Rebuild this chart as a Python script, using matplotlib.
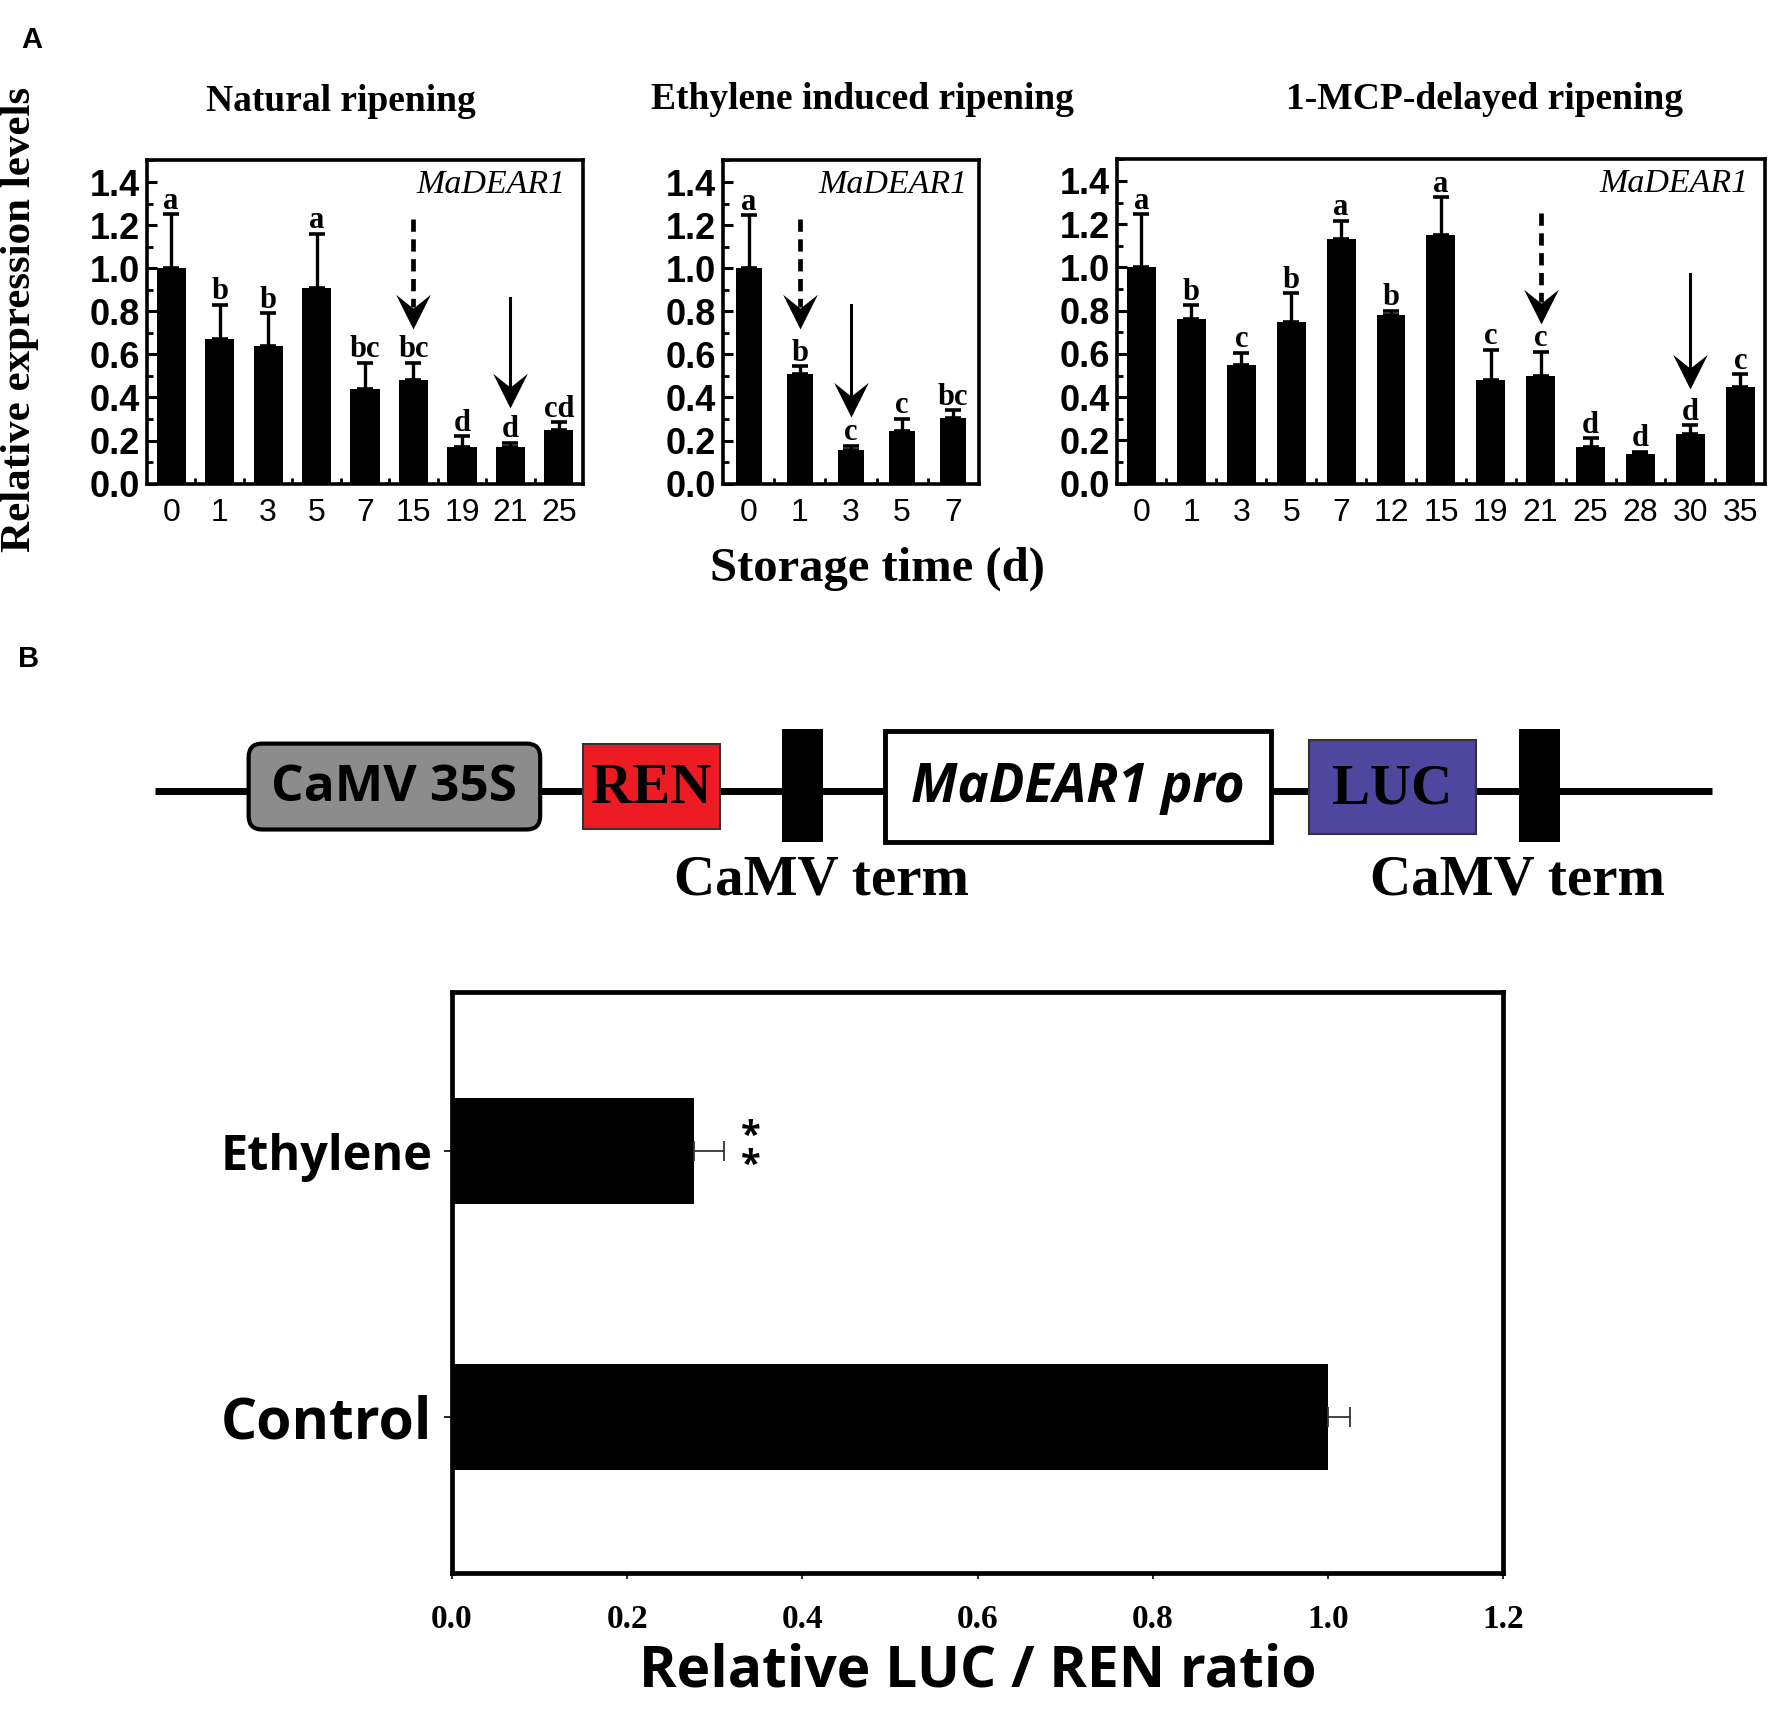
import matplotlib
matplotlib.use('Agg')
import matplotlib.pyplot as plt
import numpy as np
from matplotlib.path import Path
from matplotlib.patches import FancyBboxPatch, Rectangle
from matplotlib.ticker import MultipleLocator, FixedLocator

# layout is measured in reference units (1568 x 1522), converted to figure fractions
W, H = 1568.0, 1522.0
SERIF = 'Liberation Serif'
ARIAL = 'Liberation Sans'
SANS = 'Open Sans'


def box(x0, y0, x1, y1):
    return [x0 / W, 1 - y1 / H, (x1 - x0) / W, (y1 - y0) / H]


# ---- panel A data (relative expression of MaDEAR1)
nat_days = ['0', '1', '3', '5', '7', '15', '19', '21', '25']
nat_mean = [1.00, 0.67, 0.64, 0.91, 0.44, 0.48, 0.17, 0.17, 0.25]
nat_err = [0.25, 0.16, 0.15, 0.25, 0.12, 0.08, 0.05, 0.02, 0.035]
nat_sig = ['a', 'b', 'b', 'a', 'bc', 'bc', 'd', 'd', 'cd']
nat_arrows = [('15', 1.23, 0.72, True), ('21', 0.86, 0.35, False)]

eth_days = ['0', '1', '3', '5', '7']
eth_mean = [1.00, 0.51, 0.155, 0.245, 0.305]
eth_err = [0.245, 0.035, 0.02, 0.055, 0.035]
eth_sig = ['a', 'b', 'c', 'c', 'bc']
eth_arrows = [('1', 1.23, 0.72, True), ('3', 0.83, 0.31, False)]

mcp_days = ['0', '1', '3', '5', '7', '12', '15', '19', '21', '25', '28', '30', '35']
mcp_mean = [1.00, 0.76, 0.55, 0.75, 1.13, 0.78, 1.15, 0.48, 0.50, 0.17, 0.135, 0.23, 0.445]
mcp_err = [0.245, 0.065, 0.055, 0.13, 0.085, 0.02, 0.175, 0.14, 0.11, 0.04, 0.012, 0.04, 0.06]
mcp_sig = ['a', 'b', 'c', 'b', 'a', 'b', 'a', 'c', 'c', 'd', 'd', 'd', 'c']
mcp_arrows = [('21', 1.25, 0.74, True), ('30', 0.97, 0.44, False)]

# ---- panel B data (dual luciferase)
luc_groups = ['Control', 'Ethylene']
luc_mean = [1.0, 0.276]
luc_err = [0.025, 0.035]

# construct elements: label, x0, x1, y0, y1, face, style
construct = [
    ('CaMV 35S', 220, 478, 658, 734, '#8c8c8c', 'round'),
    ('REN', 516, 637, 658, 734, '#ed1c24', 'serif'),
    ('CaMV term', 692, 728, 645, 745, 'black', 'term'),
    ('MaDEAR1 pro', 783, 1125, 647, 745, 'white', 'pro'),
    ('LUC', 1158, 1306, 655, 738, '#4f479d', 'serif'),
    ('CaMV term', 1344, 1380, 645, 745, 'black', 'term'),
]
term_label_x = [727, 1343]

# stealth-like arrow head, tip at origin pointing down
head = Path([(0, 0), (-0.5, 1.0), (0, 0.6), (0.5, 1.0), (0, 0)],
            [Path.MOVETO, Path.LINETO, Path.LINETO, Path.LINETO, Path.CLOSEPOLY])

fig = plt.figure(figsize=(17.72, 17.20), dpi=100)


def expr_panel(rect, days, mean, err, sig, arrows, width, gene_x):
    ax = fig.add_axes(box(*rect))
    x = np.arange(len(days))
    ax.bar(x, mean, width=width, color='k', zorder=2)
    ax.errorbar(x, mean, yerr=[np.zeros(len(x)), err], fmt='none', ecolor='k',
                elinewidth=2.4, capsize=5.5, capthick=2.6, zorder=2)
    for xi, m, e, s in zip(x, mean, err, sig):
        ax.annotate(s, (xi, m + e), xytext=(0, -1), textcoords='offset points',
                    ha='center', va='bottom', fontsize=22, fontweight='bold',
                    family=SERIF)
    for day, y0, tip, dashed in arrows:
        xi = days.index(day)
        if dashed:
            ax.plot([xi, xi], [y0, tip + 0.1], color='k', lw=3.4, ls=(0, (2.6, 1.6)),
                    solid_capstyle='butt', dash_capstyle='butt')
        else:
            ax.plot([xi, xi], [y0, tip + 0.1], color='k', lw=2.2)
        ax.plot([xi], [tip], marker=head, ms=50, color='k', mew=0, ls='none')
    ax.set_xlim(-0.5, len(days) - 0.5)
    ax.set_ylim(0, 1.5)
    ax.set_xticks(x)
    ax.set_xticklabels(days, family=ARIAL, fontsize=23)
    ax.xaxis.set_minor_locator(FixedLocator(x[:-1] + 0.5))
    ax.yaxis.set_minor_locator(MultipleLocator(0.1))
    ax.set_yticks(np.arange(0, 1.41, 0.2))
    ax.set_yticklabels(['%.1f' % v for v in np.arange(0, 1.41, 0.2)],
                       family=ARIAL, fontsize=26, fontweight='bold')
    ax.tick_params(axis='y', which='major', direction='in', length=7, width=2.2, pad=5)
    ax.tick_params(axis='y', which='minor', direction='in', length=4, width=2)
    ax.tick_params(axis='x', which='major', length=0, pad=10)
    ax.tick_params(axis='x', which='minor', direction='in', length=4, width=2)
    for sp in ax.spines.values():
        sp.set_linewidth(2.6)
    ax.text(gene_x, 0.925, 'MaDEAR1', transform=ax.transAxes, ha='right', va='center',
            family=SERIF, style='italic', fontsize=24.5)
    return ax


expr_panel((130, 142, 516, 428), nat_days, nat_mean, nat_err, nat_sig, nat_arrows, 0.6, 0.96)
expr_panel((640, 142, 866, 428), eth_days, eth_mean, eth_err, eth_sig, eth_arrows, 0.52, 0.955)
expr_panel((988, 141, 1562, 428), mcp_days, mcp_mean, mcp_err, mcp_sig, mcp_arrows, 0.58, 0.975)

fig.text(28 / W, 1 - 35 / H, 'A', family=ARIAL, fontweight='bold', fontsize=21,
         ha='center', va='center')
fig.text(302 / W, 1 - 90 / H, 'Natural ripening', family=SERIF, fontweight='bold',
         fontsize=27, ha='center', va='center')
fig.text(763 / W, 1 - 88 / H, 'Ethylene induced ripening', family=SERIF,
         fontweight='bold', fontsize=27, ha='center', va='center')
fig.text(1314 / W, 1 - 88 / H, '1-MCP-delayed ripening', family=SERIF,
         fontweight='bold', fontsize=27, ha='center', va='center')
fig.text(18 / W, 1 - 283 / H, 'Relative expression levels', family=SERIF,
         fontweight='bold', fontsize=31, rotation=90, ha='center', va='center')
fig.text(776 / W, 1 - 503 / H, 'Storage time (d)', family=SERIF, fontweight='bold',
         fontsize=35, ha='center', va='center')

# ---- panel B: construct diagram
fig.text(25 / W, 1 - 583 / H, 'B', family=ARIAL, fontweight='bold', fontsize=21,
         ha='center', va='center')
dg = fig.add_axes(box(0, 620, 1568, 820))
dg.set_xlim(0, 1568)
dg.set_ylim(820, 620)
dg.axis('off')
dg.plot([137, 1515], [700, 700], color='k', lw=5, solid_capstyle='butt', zorder=1)
term_i = 0
for label, x0, x1, y0, y1, face, kind in construct:
    cx, cy = (x0 + x1) / 2, (y0 + y1) / 2
    if kind == 'round':
        dg.add_patch(FancyBboxPatch((x0, y0), x1 - x0, y1 - y0,
                                    boxstyle='round,pad=0,rounding_size=12',
                                    fc=face, ec='k', lw=3, zorder=2))
        dg.text(cx, cy + 1, label, family=SANS, fontweight='bold', fontsize=37,
                ha='center', va='center', zorder=3)
    elif kind == 'serif':
        dg.add_patch(Rectangle((x0, y0), x1 - x0, y1 - y0, fc=face, ec='#333333',
                               lw=1.5, zorder=2))
        dg.text(cx, cy + 2, label, family=SERIF, fontweight='bold', fontsize=41,
                ha='center', va='center', zorder=3)
    elif kind == 'pro':
        dg.add_patch(Rectangle((x0, y0), x1 - x0, y1 - y0, fc=face, ec='k',
                               lw=3.5, zorder=2))
        dg.text(cx, cy + 1, label, family=SANS, fontweight='bold', style='italic',
                fontsize=38, ha='center', va='center', zorder=3)
    else:
        dg.add_patch(Rectangle((x0, y0), x1 - x0, y1 - y0, fc=face, ec='none', zorder=2))
        dg.text(term_label_x[term_i], 779, label, family=SERIF,
                fontweight='bold', fontsize=41, ha='center', va='center')
        term_i += 1

# ---- panel B: LUC/REN bar chart
bx = fig.add_axes(box(400, 878, 1330, 1392))
yy = np.arange(len(luc_groups))
bx.barh(yy, luc_mean, height=0.4, color='k', zorder=2)
bx.errorbar(luc_mean, yy, xerr=[np.zeros(len(yy)), luc_err], fmt='none',
            ecolor='#333333', elinewidth=1.3, capsize=7, capthick=1.3, zorder=2)
eth_i = luc_groups.index('Ethylene')
bx.text(luc_mean[eth_i] + luc_err[eth_i] + 0.03, yy[eth_i], '*\n*', family=SANS,
        fontweight='bold', fontsize=26, ha='center', va='center', linespacing=0.75)
bx.set_xlim(0, 1.2)
bx.set_ylim(-0.59, 1.6)
bx.set_yticks(yy)
bx.set_yticklabels(luc_groups, family=SANS, fontweight='bold')
for lab, fs in zip(bx.get_yticklabels(), [41, 35]):
    lab.set_fontsize(fs)
bx.set_xticks(np.arange(0, 1.21, 0.2))
bx.set_xticklabels(['%.1f' % v for v in np.arange(0, 1.21, 0.2)], family=SERIF,
                   fontweight='bold', fontsize=24)
bx.tick_params(axis='y', length=6, width=1.2, pad=8)
bx.tick_params(axis='x', length=4, width=1.2, pad=18)
for sp in bx.spines.values():
    sp.set_linewidth(3.4)
bx.set_xlabel('Relative LUC / REN ratio', family=SANS, fontweight='bold',
              fontsize=41, labelpad=6)

fig.savefig('out.png', dpi=100)
